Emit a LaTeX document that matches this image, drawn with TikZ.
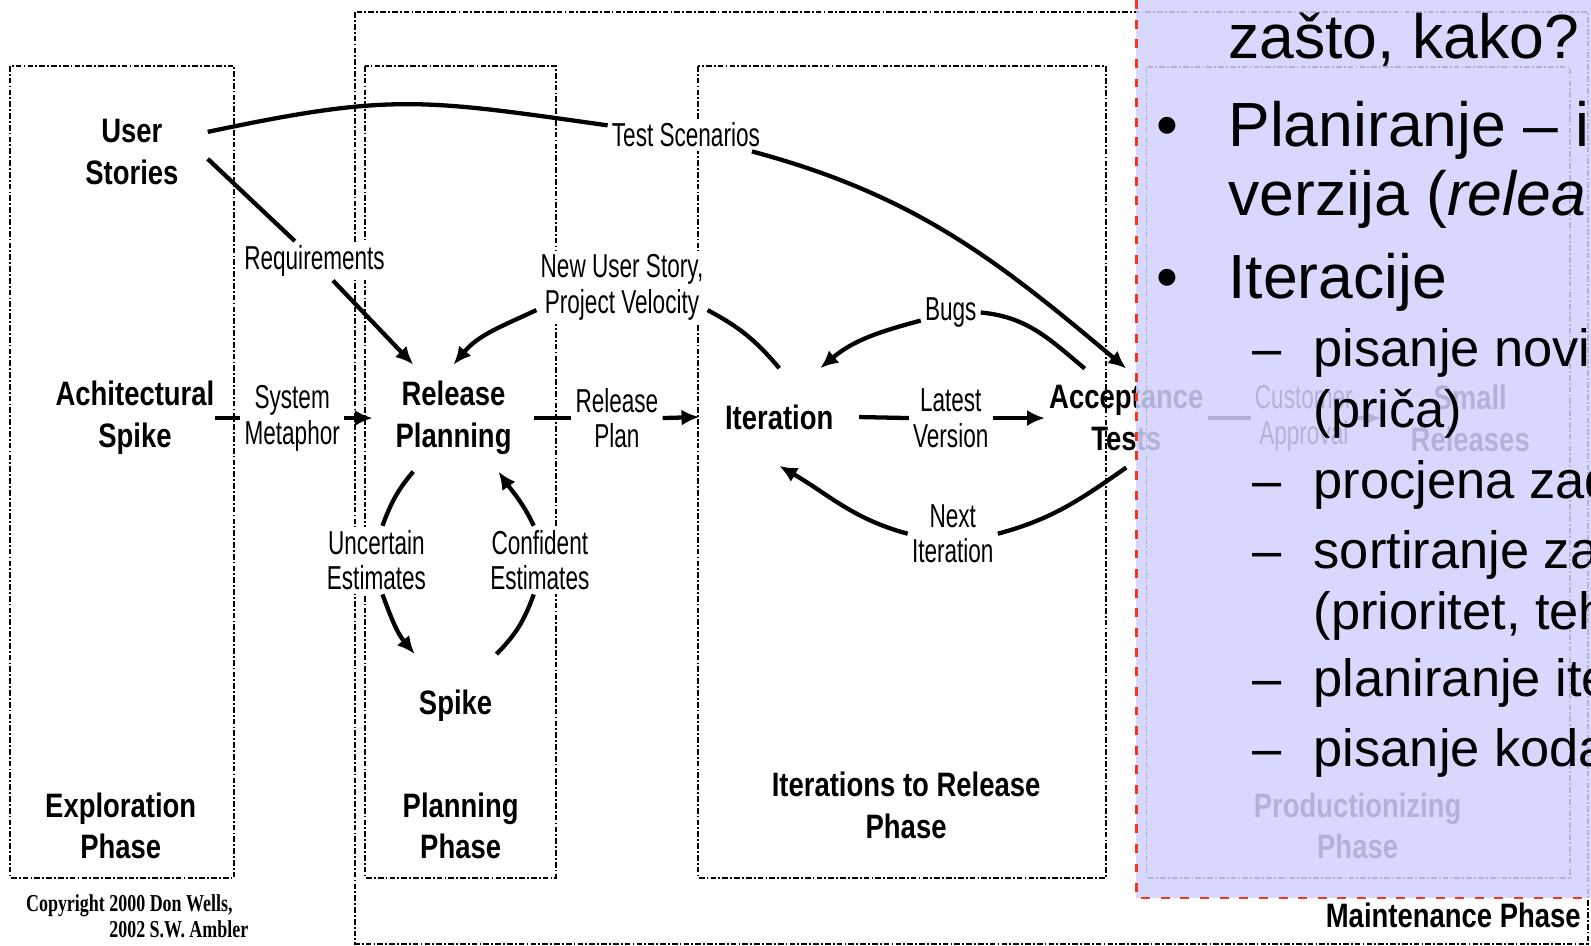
\documentclass[tikz,border=0pt]{standalone}
\usepackage{fontspec}
\setmainfont{Liberation Sans}
\newfontfamily\stagefont[FakeStretch=0.81]{Liberation Sans}
\newfontfamily\notefont[FakeStretch=0.68]{Liberation Sans}
\newfontfamily\copyfont[FakeStretch=0.74]{Liberation Serif}
\usetikzlibrary{arrows.meta}
\definecolor{slidebg}{RGB}{210,210,255}
\definecolor{slideedge}{RGB}{245,55,25}

\begin{document}
\begin{tikzpicture}[x=0.01cm,y=-0.01cm,
	>={Latex[length=5pt,width=4.5pt]},
	phasebox/.style={draw, line width=0.5pt, dash pattern=on 1.6pt off 0.6pt on 0.5pt off 0.6pt},
	stage/.style={align=center, inner sep=0pt, font=\fontsize{9.5}{11.7}\stagefont\bfseries},
	note/.style={align=center, fill=white, inner sep=1pt, font=\fontsize{9.3}{10}\notefont},
	flow/.style={line width=1.2pt},
	slide/.style={anchor=base west, inner sep=0pt, font=\fontsize{17.5}{20}\selectfont},
	subslide/.style={anchor=base west, inner sep=0pt, font=\fontsize{14.7}{17}\selectfont}]
	\useasboundingbox (0,0) rectangle (1568,932);
	\fill[white] (0,0) rectangle (1568,932);
	% phases
	\draw[phasebox] (350,12) rectangle (1565,930);
	\draw[phasebox] (10,65) rectangle (231,865);
	\draw[phasebox] (360,65) rectangle (548,865);
	\draw[phasebox] (688,65) rectangle (1090,865);
	\draw[phasebox] (1130,66) rectangle (1547,865);
	\node[stage] (explorephase) at (119,814) {Exploration\\Phase};
	\node[stage] (planphase) at (454,814) {Planning\\Phase};
	\node[stage] (iterphase) at (893,794) {Iterations to Release\\Phase};
	\node[stage] (prodphase) at (1338,814) {Productionizing\\Phase};
	\node[stage, anchor=base west] (maintphase) at (1306,914) {Maintenance Phase};
	\node[anchor=north west, inner sep=0pt, align=left, font=\fontsize{6.8}{6}\copyfont\bfseries] (copyright) at (25,881) {Copyright 2000 Don Wells,\\\hspace*{0.82cm}2002 S.W. Ambler};
	% steps
	\node[stage, inner sep=8pt] (us) at (130,150) {User\\Stories};
	\node[stage] (as) at (133,412) {Achitectural\\Spike};
	\node[stage, inner xsep=6.2pt, inner ysep=4.5pt] (rp) at (447,412) {Release\\Planning};
	\node[stage, inner xsep=7pt, inner ysep=10pt] (it) at (768,411) {Iteration};
	\node[stage, inner xsep=1pt, inner ysep=4.5pt] (at) at (1110,412) {Acceptance\\Tests};
	\node[stage, inner xsep=1pt, inner ysep=10pt] (sp) at (449,696) {Spike};
	\node[stage, inner xsep=8pt] (sr) at (1449,412) {Small\\Releases};
	% labels
	\node[note] (ts) at (676,133) {Test Scenarios};
	\node[note] (req) at (310,257) {Requirements};
	\node[note] (nus) at (613,283) {New User Story,\\Project Velocity};
	\node[note] (bugs) at (937,308) {Bugs};
	\node[note] (sm) at (288,412) {System\\Metaphor};
	\node[note] (rpl) at (608,412) {Release\\Plan};
	\node[note] (lv) at (937,412) {Latest\\Version};
	\node[note] (ni) at (939,526) {Next\\Iteration};
	\node[note] (ue) at (371,552) {Uncertain\\Estimates};
	\node[note] (ce) at (532,552) {Confident\\Estimates};
	\node[note] (ca) at (1285,412) {Customer\\Approval};
	% connectors
	\draw[flow] (us.15) to[out=12,in=172,looseness=1.2] (ts.173);
	\draw[flow,->] (ts.-14) to[out=-15,in=140] (at.north);
	\draw[flow] (us.-5) -- (req.135);
	\draw[flow,->] (req.-47) -- (rp.127);
	\draw[flow] (it.north) to[out=130,in=-28] (nus.-15);
	\draw[flow,->] (nus.195) to[out=205,in=50] (rp.north);
	\draw[flow] (at.130) to[out=140,in=-5] (bugs.east);
	\draw[flow,->] (bugs.195) to[out=195,in=40] (it.50);
	\draw[flow] (as.east) -- (sm.west);
	\draw[flow,->] (sm.east) -- (rp.west);
	\draw[flow] (rp.east) -- (rpl.west);
	\draw[flow,->] (rpl.east) -- (it.west);
	\draw[flow] (it.east) -- (lv.west);
	\draw[flow,->] (lv.east) -- (at.west);
	\draw[flow] (at.south) to[out=215,in=15] (ni.east);
	\draw[flow,->] (ni.west) to[out=165,in=-30] (it.south);
	\draw[flow] (rp.233) to[out=230,in=70] (ue.80);
	\draw[flow,->] (ue.-80) to[out=-70,in=130] (sp.north west);
	\draw[flow] (sp.north east) to[out=45,in=-110] (ce.-100);
	\draw[flow,->] (ce.100) to[out=115,in=-55] (rp.-50);
	\draw[flow] (at.east) -- (ca.west);
	\draw[flow,->] (ca.east) -- (sr.west);
	% slide overlay
	\fill[slidebg, fill opacity=0.85] (1120,0) rectangle (1568,885);
	\draw[slideedge, line width=0.8pt, dash pattern=on 2.5pt off 3pt] (1120,0) -- (1120,885) -- (1568,885);
	\node[slide] (why) at (1210,58) {zašto, kako?};
	\node[slide] (bullet1) at (1139,144) {•};
	\node[slide] (plan1) at (1210,144) {Planiranje – i};
	\node[slide] (plan2) at (1210,212) {verzija (\textit{relea}};
	\node[slide] (bullet2) at (1139,294) {•};
	\node[slide] (iter) at (1210,294) {Iteracije};
	\foreach \y [count=\n] in {361,491,560,686,755}
		\node[subslide] (dash\n) at (1234,\y) {–};
	\node[subslide] (new1) at (1294,361) {pisanje novi};
	\node[subslide] (new2) at (1294,421) {(priča)};
	\node[subslide] (est) at (1294,491) {procjena zad};
	\node[subslide] (sort1) at (1294,560) {sortiranje za};
	\node[subslide] (sort2) at (1294,620) {(prioritet, teh};
	\node[subslide] (iterplan) at (1294,686) {planiranje ite};
	\node[subslide] (code) at (1294,755) {pisanje koda};
\end{tikzpicture}
\end{document}
